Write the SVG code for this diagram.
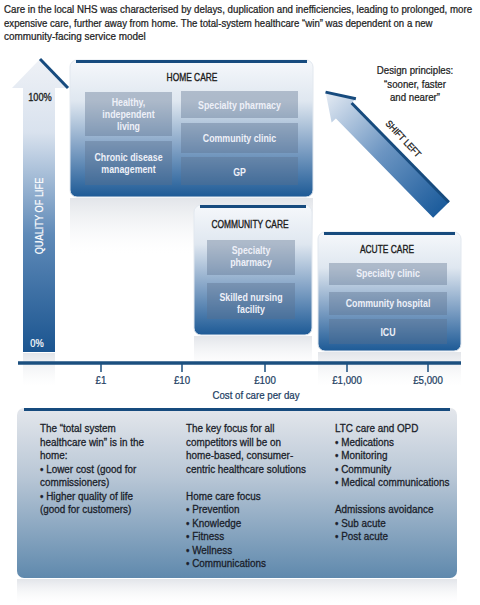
<svg xmlns="http://www.w3.org/2000/svg" width="480" height="605" viewBox="0 0 480 605">
<style>
.t{font-family:"Liberation Sans",Arial,sans-serif}
.hd{font-size:11px;fill:#222;stroke:#222;stroke-width:0.25}
.ttl{font-size:10.5px;fill:#1a1a1a;stroke:#1a1a1a;stroke-width:0.35;text-anchor:middle}
.lbl{font-size:10.5px;font-weight:bold;fill:#eef0f8;text-anchor:middle}
.ax{font-size:11px;fill:#1c3d62;stroke:#1c3d62;stroke-width:0.25;text-anchor:middle}
.sm{font-size:11px;fill:#1a1e2a;stroke:#1a1e2a;stroke-width:0.3}
.blk{fill:#5a6f8c;fill-opacity:0.38}
.strip{fill:#174b7e}
</style>
<defs>
<linearGradient id="boxg" x1="0" y1="0" x2="0" y2="1">
<stop offset="0" stop-color="#f6f8fb"/>
<stop offset="0.3" stop-color="#dfe7f0"/>
<stop offset="0.65" stop-color="#7fa0c4"/>
<stop offset="1" stop-color="#1d5a96"/>
</linearGradient>
<linearGradient id="qg" x1="0" y1="59" x2="0" y2="352" gradientUnits="userSpaceOnUse">
<stop offset="0" stop-color="#eef1f6"/>
<stop offset="0.25" stop-color="#d9e2ee"/>
<stop offset="0.6" stop-color="#5f8ab8"/>
<stop offset="1" stop-color="#1b5590"/>
</linearGradient>
<linearGradient id="sg" x1="0" y1="0" x2="165" y2="0" gradientUnits="userSpaceOnUse">
<stop offset="0" stop-color="#1c5c9c"/>
<stop offset="0.5" stop-color="#6c95c2"/>
<stop offset="1" stop-color="#e6ecf4"/>
</linearGradient>
<linearGradient id="bg" x1="0" y1="0" x2="0" y2="1">
<stop offset="0" stop-color="#e4e7ec"/>
<stop offset="0.4" stop-color="#b9c7d6"/>
<stop offset="1" stop-color="#5f89ad"/>
</linearGradient>
<linearGradient id="shd" x1="0" y1="0" x2="0" y2="1">
<stop offset="0" stop-color="#dfe2e7" stop-opacity="0.9"/>
<stop offset="1" stop-color="#f4f5f7" stop-opacity="0"/>
</linearGradient>
</defs>
<rect width="480" height="605" fill="#ffffff"/>

<g id="header" class="t hd">
<text transform="translate(4,13) scale(0.88,1)" textLength="532" lengthAdjust="spacingAndGlyphs">Care in the local NHS was characterised by delays, duplication and inefficiencies, leading to prolonged, more</text>
<text transform="translate(4,26.5) scale(0.88,1)" textLength="487" lengthAdjust="spacingAndGlyphs">expensive care, further away from home. The total-system healthcare “win” was dependent on a new</text>
<text transform="translate(4,40) scale(0.88,1)" textLength="161" lengthAdjust="spacingAndGlyphs">community-facing service model</text>
</g>

<g id="shadows">
<rect x="70" y="198" width="243" height="55" fill="url(#shd)"/>
<rect x="194" y="336" width="118" height="32" fill="url(#shd)"/>
<rect x="318" y="352" width="143" height="34" fill="url(#shd)"/>
<rect x="23" y="353" width="32" height="33" fill="url(#shd)"/>
<rect x="17" y="579" width="440" height="24" fill="url(#shd)"/>
</g>

<g id="quality-of-life">
<path d="M23,352 L23,88 L12,88 L40,59 L68,88 L55,88 L55,352 Z" fill="url(#qg)"/>
<path d="M40,59 L68,88" stroke="#174b7e" stroke-width="3" fill="none"/>
<text class="t" transform="translate(40,101) scale(0.88,1)" font-size="10.5" fill="#1a1a1a" stroke="#1a1a1a" stroke-width="0.3" text-anchor="middle">100%</text>
<text class="t" transform="translate(37,347) scale(0.88,1)" font-size="10.5" fill="#ffffff" stroke="#ffffff" stroke-width="0.2" text-anchor="middle">0%</text>
<text class="t" transform="translate(43,216) rotate(-90) scale(0.88,1)" font-size="10.5" fill="#ffffff" stroke="#ffffff" stroke-width="0.2" text-anchor="middle">QUALITY OF LIFE</text>
</g>

<g id="home-care">
<rect x="70" y="60" width="243" height="137" rx="7" fill="url(#boxg)" stroke="#e2e8ef" stroke-width="1"/>
<rect class="strip" x="76" y="60" width="231" height="3"/>
<text class="t ttl" transform="translate(192,81) scale(0.8,1)">HOME CARE</text>
<rect class="blk" x="85" y="92" width="87" height="44"/>
<rect class="blk" x="85" y="141" width="87" height="44"/>
<rect class="blk" x="181" y="91" width="117" height="27"/>
<rect class="blk" x="181" y="123" width="117" height="30"/>
<rect class="blk" x="181" y="157" width="117" height="28"/>
<g class="t lbl">
<text transform="translate(128.5,106) scale(0.84,1)">Healthy,</text>
<text transform="translate(128.5,118) scale(0.84,1)">independent</text>
<text transform="translate(128.5,130) scale(0.84,1)">living</text>
<text transform="translate(128.5,161) scale(0.84,1)">Chronic disease</text>
<text transform="translate(128.5,172.5) scale(0.84,1)">management</text>
<text transform="translate(239.5,109) scale(0.84,1)">Specialty pharmacy</text>
<text transform="translate(239.5,142) scale(0.84,1)">Community clinic</text>
<text transform="translate(239.5,176) scale(0.84,1)">GP</text>
</g>
</g>

<g id="community-care">
<rect x="194" y="205" width="118" height="130" rx="7" fill="url(#boxg)" stroke="#e2e8ef" stroke-width="1"/>
<rect class="strip" x="200" y="205" width="106" height="3"/>
<text class="t ttl" transform="translate(250,228) scale(0.8,1)">COMMUNITY CARE</text>
<rect class="blk" x="207" y="240" width="88" height="35"/>
<rect class="blk" x="207" y="283" width="88" height="36"/>
<g class="t lbl">
<text transform="translate(251,254) scale(0.84,1)">Specialty</text>
<text transform="translate(251,266) scale(0.84,1)">pharmacy</text>
<text transform="translate(251,301) scale(0.84,1)">Skilled nursing</text>
<text transform="translate(251,312.5) scale(0.84,1)">facility</text>
</g>
</g>

<g id="acute-care">
<rect x="318" y="232" width="143" height="119" rx="7" fill="url(#boxg)" stroke="#e2e8ef" stroke-width="1"/>
<rect class="strip" x="324" y="232" width="131" height="3"/>
<text class="t ttl" transform="translate(387,253) scale(0.8,1)">ACUTE CARE</text>
<rect class="blk" x="329" y="263" width="118" height="22"/>
<rect class="blk" x="329" y="292" width="118" height="23"/>
<rect class="blk" x="329" y="319" width="118" height="25"/>
<g class="t lbl">
<text transform="translate(388,277) scale(0.84,1)">Specialty clinic</text>
<text transform="translate(388,307) scale(0.84,1)">Community hospital</text>
<text transform="translate(388,336) scale(0.84,1)">ICU</text>
</g>
</g>

<g id="design-principles" class="t" font-size="11" fill="#222" stroke="#222" stroke-width="0.25" text-anchor="middle">
<text transform="translate(415,74) scale(0.88,1)">Design principles:</text>
<text transform="translate(415,87.5) scale(0.88,1)">“sooner, faster</text>
<text transform="translate(415,101) scale(0.88,1)">and nearer”</text>
</g>

<g id="connectors">
<g id="shift-left" transform="translate(441,210) rotate(-134.4)">
<path d="M0,-11 L139,-11 L139,-17 L165,0 L139,17 L139,11 L0,11 Z" fill="url(#sg)"/>
<path d="M0,11 L139,11" stroke="#174b7e" stroke-width="3" fill="none"/>
<path d="M165,0 L139,17" stroke="#174b7e" stroke-width="3" fill="none"/>
</g>
<text class="t" transform="translate(401,141) rotate(47) scale(0.88,1)" font-size="9.5" fill="#1a1a1a" stroke="#1a1a1a" stroke-width="0.3" text-anchor="middle">SHIFT LEFT</text>
</g>

<g id="axis">
<line x1="18" y1="363" x2="461" y2="363" stroke="#1b4f7f" stroke-width="3.5"/>
<g stroke="#1b4f7f" stroke-width="1.5">
<line x1="101" y1="363" x2="101" y2="372"/>
<line x1="182" y1="363" x2="182" y2="372"/>
<line x1="265" y1="363" x2="265" y2="372"/>
<line x1="347" y1="363" x2="347" y2="372"/>
<line x1="428" y1="363" x2="428" y2="372"/>
</g>
<g class="t ax">
<text transform="translate(101,384) scale(0.88,1)">£1</text>
<text transform="translate(182,384) scale(0.88,1)">£10</text>
<text transform="translate(265,384) scale(0.88,1)">£100</text>
<text transform="translate(347,384) scale(0.88,1)">£1,000</text>
<text transform="translate(428,384) scale(0.88,1)">£5,000</text>
<text transform="translate(256,399) scale(0.88,1)">Cost of care per day</text>
</g>
</g>

<g id="summary">
<rect x="17" y="408" width="440" height="170" rx="7" fill="url(#bg)"/>
<rect class="strip" x="24" y="408" width="426" height="3"/>
<g class="t sm">
<text transform="translate(40,432) scale(0.9,1)">The “total system</text>
<text transform="translate(40,445.5) scale(0.9,1)">healthcare win” is in the</text>
<text transform="translate(40,459) scale(0.9,1)">home:</text>
<text transform="translate(40,472.5) scale(0.9,1)">• Lower cost (good for</text>
<text transform="translate(40,486) scale(0.9,1)">commissioners)</text>
<text transform="translate(40,499.5) scale(0.9,1)">• Higher quality of life</text>
<text transform="translate(40,513) scale(0.9,1)">(good for customers)</text>
<text transform="translate(186,432) scale(0.9,1)">The key focus for all</text>
<text transform="translate(186,445.5) scale(0.9,1)">competitors will be on</text>
<text transform="translate(186,459) scale(0.9,1)">home-based, consumer-</text>
<text transform="translate(186,472.5) scale(0.9,1)">centric healthcare solutions</text>
<text transform="translate(186,499.5) scale(0.9,1)">Home care focus</text>
<text transform="translate(186,513) scale(0.9,1)">• Prevention</text>
<text transform="translate(186,526.5) scale(0.9,1)">• Knowledge</text>
<text transform="translate(186,540) scale(0.9,1)">• Fitness</text>
<text transform="translate(186,553.5) scale(0.9,1)">• Wellness</text>
<text transform="translate(186,567) scale(0.9,1)">• Communications</text>
<text transform="translate(335,432) scale(0.9,1)">LTC care and OPD</text>
<text transform="translate(335,445.5) scale(0.9,1)">• Medications</text>
<text transform="translate(335,459) scale(0.9,1)">• Monitoring</text>
<text transform="translate(335,472.5) scale(0.9,1)">• Community</text>
<text transform="translate(335,486) scale(0.9,1)">• Medical communications</text>
<text transform="translate(335,513) scale(0.9,1)">Admissions avoidance</text>
<text transform="translate(335,526.5) scale(0.9,1)">• Sub acute</text>
<text transform="translate(335,540) scale(0.9,1)">• Post acute</text>
</g>
</g>
</svg>
